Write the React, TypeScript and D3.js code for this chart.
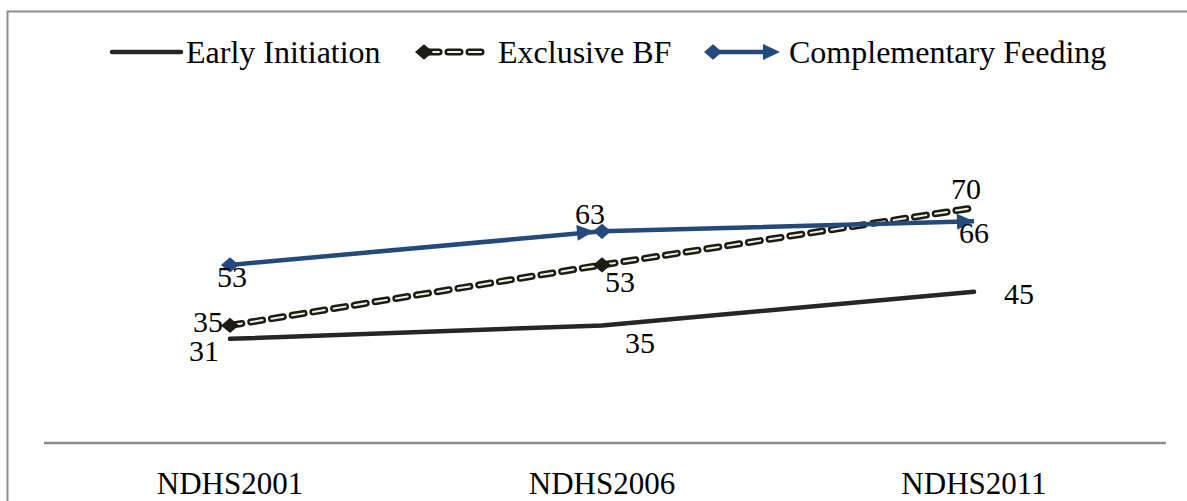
import React from "react";
import * as d3 from "d3";

const categories = ["NDHS2001", "NDHS2006", "NDHS2011"];
const earlyInitiation = [31, 35, 45];
const exclusiveBF = [35, 53, 70];
const complementaryFeeding = [53, 63, 66];
const seriesNames = ["Early Initiation", "Exclusive BF", "Complementary Feeding"];

const W = 1187;
const H = 501;
const FONT = "'Liberation Serif', 'Times New Roman', serif";
const BLUE = "#24497c";
const DARK = "#1c1c12";
const BLACK = "#262626";

export default function App() {
  const x = d3.scalePoint<string>().domain(categories).range([44, 1160]).padding(0.5);
  const y = d3.scaleLinear().domain([0, 100]).range([443, 107]);
  const line = d3.line<number>().x((_, i) => x(categories[i])!).y((d) => y(d));

  const diamond = (cx: number, cy: number, r: number) =>
    `M${cx - r},${cy} L${cx},${cy - r * 0.85} L${cx + r},${cy} L${cx},${cy + r * 0.85} Z`;
  const arrowAt = (x0: number, y0: number, x1: number, y1: number) => {
    const a = Math.atan2(y1 - y0, x1 - x0);
    const L = 17, hw = 8;
    const bx = x1 - L * Math.cos(a), by = y1 - L * Math.sin(a);
    const px = -Math.sin(a) * hw, py = Math.cos(a) * hw;
    return `M${x1},${y1} L${bx + px},${by + py} L${bx - px},${by - py} Z`;
  };

  const pts = (vals: number[]) => vals.map((v, i) => [x(categories[i])!, y(v)] as [number, number]);
  const eiP = pts(earlyInitiation);
  const exP = pts(exclusiveBF);
  const cfP = pts(complementaryFeeding);

  const labelStyle = { fontFamily: FONT, fontSize: 30, fill: "#000" } as const;

  const eiOff = [[-26, 15], [38, 21], [45, 5]];
  const exOff = [[-22, 0], [18, 20], [-8, -16]];
  const cfOff = [[2, 15], [-12, -14], [0, 15]];

  return (
    <svg width={W} height={H} style={{ position: "absolute", left: 0, top: 0, background: "#fff" }}>
      <rect x={7.5} y={11.5} width={1300} height={700} fill="#fff" stroke="#8c8c8c" strokeWidth={2} />
      <line x1={44} x2={1166} y1={y(0)} y2={y(0)} stroke="#8c8c8c" strokeWidth={2.5} />
      {categories.map((c) => (
        <text key={c} x={x(c)} y={494} textAnchor="middle" style={{ fontFamily: FONT, fontSize: 31 }}>
          {c}
        </text>
      ))}

      <path d={line(earlyInitiation)!} fill="none" stroke={BLACK} strokeWidth={4.5} strokeLinecap="round" />

      <path d={line(exclusiveBF)!} fill="none" stroke={DARK} strokeWidth={7} strokeDasharray="12,9" strokeLinecap="round" />
      <path d={line(exclusiveBF)!} fill="none" stroke="#f2f0e4" strokeWidth={2} strokeDasharray="12,9" strokeLinecap="round" />
      {exP.slice(0, -1).map((p, i) => (
        <path key={i} d={diamond(p[0], p[1], 9)} fill={DARK} />
      ))}

      <path d={line(complementaryFeeding)!} fill="none" stroke={BLUE} strokeWidth={4.5} />
      {cfP.slice(0, -1).map((p, i) => (
        <path key={"d" + i} d={diamond(p[0], p[1], 9)} fill={BLUE} />
      ))}
      {cfP.slice(1).map((p, i) => (
        <path key={"a" + i} d={arrowAt(cfP[i][0], cfP[i][1], p[0] - (i === 0 ? 8 : 0), p[1])} fill={BLUE} />
      ))}

      {earlyInitiation.map((v, i) => (
        <text key={"el" + i} x={eiP[i][0] + eiOff[i][0]} y={eiP[i][1] + eiOff[i][1]} textAnchor="middle" dominantBaseline="middle" style={labelStyle}>{v}</text>
      ))}
      {exclusiveBF.map((v, i) => (
        <text key={"xl" + i} x={exP[i][0] + exOff[i][0]} y={exP[i][1] + exOff[i][1]} textAnchor="middle" dominantBaseline="middle" style={labelStyle}>{v}</text>
      ))}
      {complementaryFeeding.map((v, i) => (
        <text key={"cl" + i} x={cfP[i][0] + cfOff[i][0]} y={cfP[i][1] + cfOff[i][1]} textAnchor="middle" dominantBaseline="middle" style={labelStyle}>{v}</text>
      ))}

      <g>
        <line x1={112} x2={181} y1={52} y2={52} stroke={BLACK} strokeWidth={4.5} strokeLinecap="round" />
        <text x={186} y={63} style={{ fontFamily: FONT, fontSize: 32 }}>{seriesNames[0]}</text>

        <line x1={427} x2={488} y1={52} y2={52} stroke={DARK} strokeWidth={7} strokeDasharray="12,9" strokeLinecap="round" />
        <line x1={427} x2={488} y1={52} y2={52} stroke="#f2f0e4" strokeWidth={2} strokeDasharray="12,9" strokeLinecap="round" />
        <path d={diamond(424, 52, 9)} fill={DARK} />
        <text x={498} y={63} style={{ fontFamily: FONT, fontSize: 32 }}>{seriesNames[1]}</text>

        <line x1={712} x2={765} y1={52} y2={52} stroke={BLUE} strokeWidth={4.5} />
        <path d={diamond(713, 52, 9)} fill={BLUE} />
        <path d={arrowAt(700, 52, 780, 52)} fill={BLUE} />
        <text x={789} y={63} style={{ fontFamily: FONT, fontSize: 32 }}>{seriesNames[2]}</text>
      </g>
    </svg>
  );
}
